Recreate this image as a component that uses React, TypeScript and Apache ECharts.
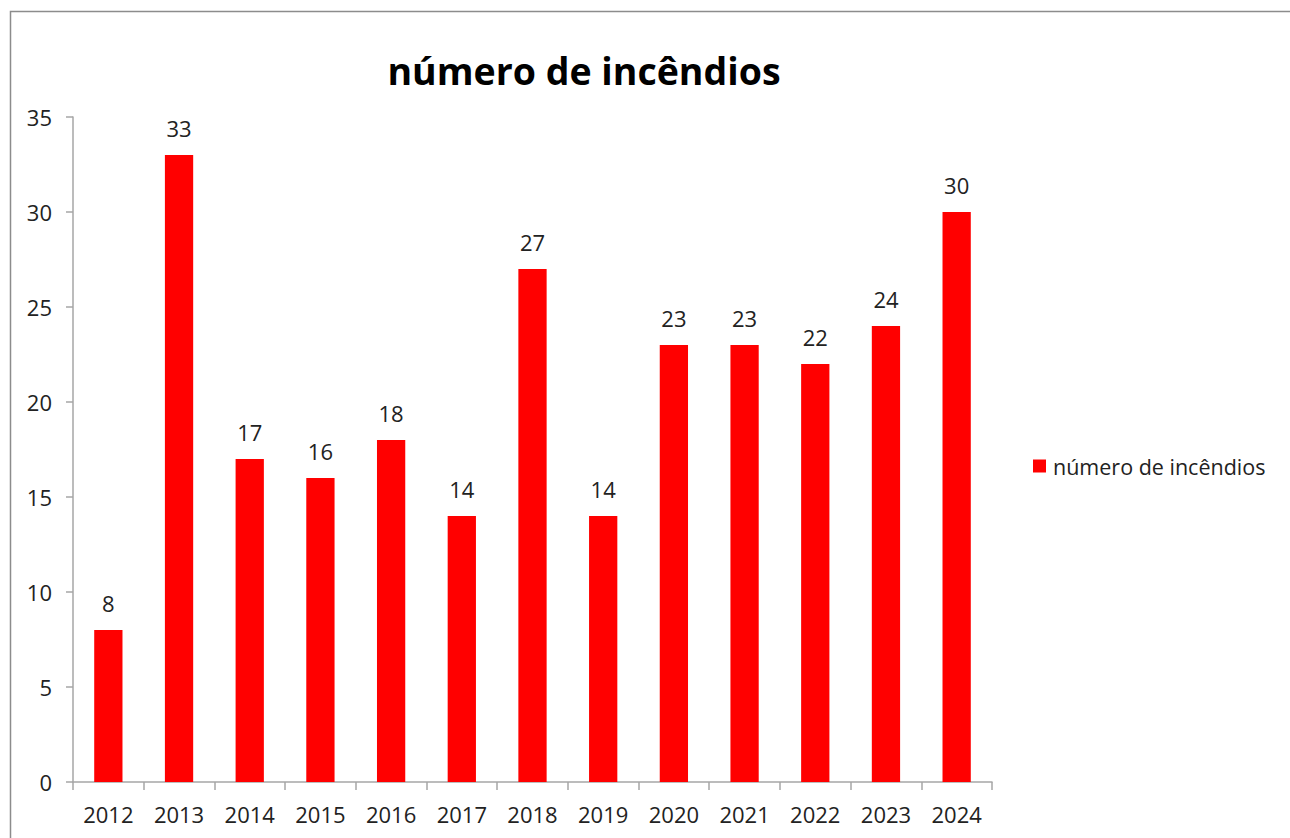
import React, { useEffect, useRef } from "react";
import * as echarts from "echarts";

const years = ["2012", "2013", "2014", "2015", "2016", "2017", "2018", "2019", "2020", "2021", "2022", "2023", "2024"];
const fires = [8, 33, 17, 16, 18, 14, 27, 14, 23, 23, 22, 24, 30];
const seriesName = "número de incêndios";
const titleText = "número de incêndios";

const FONT = "'Open Sans', 'Noto Sans', sans-serif";

export default function App() {
  const ref = useRef<HTMLDivElement>(null);
  useEffect(() => {
    if (!ref.current) return;
    const chart = echarts.init(ref.current, undefined, { renderer: "svg" });
    chart.setOption({
      animation: false,
      backgroundColor: "#ffffff",
      textStyle: { fontFamily: FONT },
      title: {
        text: titleText,
        left: 579,
        top: 46,
        textAlign: "center",
        textStyle: { fontSize: 37.5, fontWeight: "bold", color: "#000000", fontFamily: FONT },
      },
      graphic: [
        {
          type: "rect",
          shape: { x: 10.5, y: 11.5, width: 1400, height: 1000 },
          style: { fill: "none", stroke: "#8c8c8c", lineWidth: 1.5 },
          silent: true,
          z: -1,
        },
      ],
      legend: {
        orient: "vertical",
        left: 1033,
        top: 455,
        padding: 0,
        icon: "rect",
        itemWidth: 13,
        itemHeight: 13,
        itemGap: 6,
        textStyle: { fontSize: 21.5, color: "#222222", fontFamily: FONT, padding: [0, 0, 0, 2] },
        data: [seriesName],
      },
      grid: { left: 73, right: 298, top: 117, bottom: 56, containLabel: false },
      xAxis: {
        type: "category",
        data: years,
        boundaryGap: true,
        axisLine: { show: true, lineStyle: { color: "#a6a6a6", width: 1.5 } },
        axisTick: { show: true, length: 8, lineStyle: { color: "#a6a6a6", width: 1.5 } },
        axisLabel: { fontSize: 22, color: "#222222", margin: 21, fontFamily: FONT },
        splitLine: { show: false },
      },
      yAxis: {
        type: "value",
        min: 0,
        max: 35,
        interval: 5,
        axisLine: { show: true, lineStyle: { color: "#a6a6a6", width: 1.5 } },
        axisTick: { show: true, length: 7, lineStyle: { color: "#a6a6a6", width: 1.5 } },
        axisLabel: { fontSize: 22, color: "#222222", margin: 21, fontFamily: FONT },
        splitLine: { show: false },
      },
      series: [
        {
          name: seriesName,
          type: "bar",
          data: fires,
          barWidth: "40%",
          itemStyle: { color: "#ff0000" },
          label: { show: true, position: "top", distance: 16, fontSize: 22, color: "#222222", fontFamily: FONT },
        },
      ],
    });
    return () => chart.dispose();
  }, []);
  return <div ref={ref} style={{ position: "fixed", left: 0, top: 0, width: 1290, height: 838 }} />;
}
